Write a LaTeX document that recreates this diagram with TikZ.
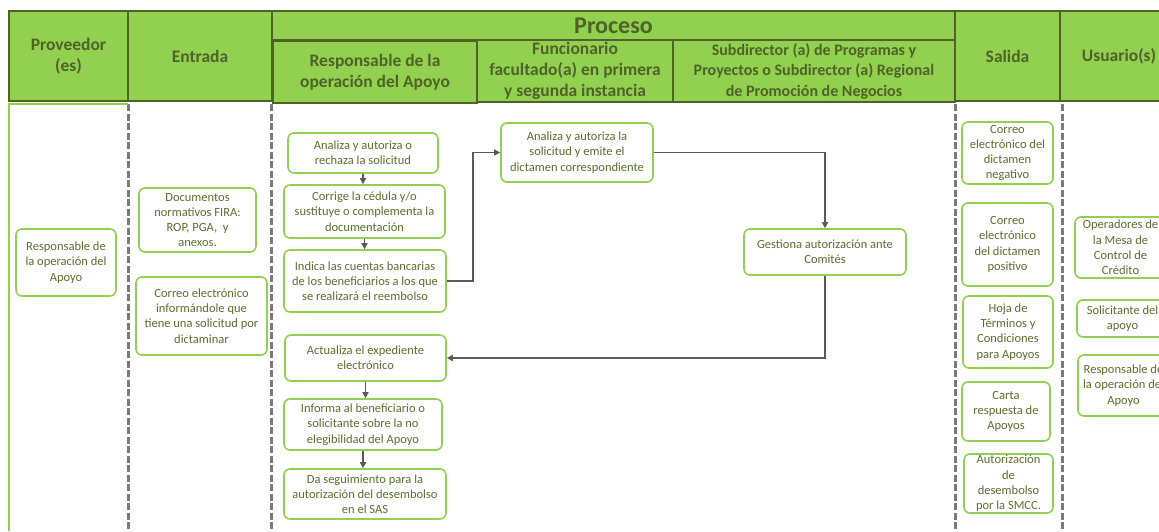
\documentclass[tikz,border=0pt]{standalone}
\usepackage{fontspec}
\setmainfont{Carlito}
\usetikzlibrary{arrows.meta}
\definecolor{hfill}{HTML}{92D050}
\definecolor{hline}{HTML}{4F6228}
\definecolor{htext}{HTML}{4F6228}
\definecolor{btext}{HTML}{5A7030}
\definecolor{arrc}{HTML}{595959}
\definecolor{dashc}{HTML}{7A7A7A}
\tikzset{
  hdr/.style={draw=hline, fill=hfill, line width=1.5pt, text=htext, font=\bfseries\fontsize{17.5}{21}\selectfont, align=center, inner sep=0pt},
  subhdr/.style={hdr, font=\bfseries\fontsize{16}{20.5}\selectfont},
  titlehdr/.style={hdr, font=\bfseries\fontsize{24}{28}\selectfont},
  box/.style={draw=hfill, fill=white, line width=1.6pt, rounded corners=6pt, text=btext, font=\fontsize{12.5}{15.3}\selectfont, align=center, inner sep=0pt},
  arr/.style={draw=arrc, line width=1.5pt, -{Triangle[length=6pt,width=6pt]}},
  lane/.style={draw=dashc, line width=3pt, dash pattern=on 7pt off 2.5pt},
  greenedge/.style={draw=hfill, line width=1.5pt},
}
\newcommand{\placenode}[7]{\node[#1, minimum width={(#5)-(#3)}, minimum height={(#6)-(#4)}] (#2) at ({((#3)+(#5))/2},{((#4)+(#6))/2}) {#7};}
\begin{document}
\begin{tikzpicture}[x=1pt,y=-1pt]
\useasboundingbox (0,0) rectangle (1159,531);
\clip (0,0) rectangle (1159,531);
\fill[white] (0,0) rectangle (1159,531);

% swimlane separators
\coordinate (l1t) at (128,104); \coordinate (l1b) at (128,531);
\coordinate (l2t) at (271.5,104); \coordinate (l2b) at (271.5,531);
\coordinate (l3t) at (955,104); \coordinate (l3b) at (955,531);
\coordinate (l4t) at (1062,104); \coordinate (l4b) at (1062,531);
\draw[lane] (l1t) -- (l1b);
\draw[lane] (l2t) -- (l2b);
\draw[lane] (l3t) -- (l3b);
\draw[lane] (l4t) -- (l4b);
\coordinate (gA) at (9,531); \coordinate (gB) at (9,104); \coordinate (gC) at (128,104);
\draw[greenedge] (gA) -- (gB) -- (gC);

% header
\placenode{hdr}{hprov}{9}{11}{128}{101}{Proveedor\\(es)}
\placenode{hdr}{hent}{128}{11}{272}{101}{Entrada}
\placenode{titlehdr}{hproc}{272}{11}{955}{40}{Proceso}
\placenode{hdr}{hresp}{273}{41}{477}{103}{Responsable de la\\operación del Apoyo}
\placenode{hdr}{hfunc}{477}{40}{673}{102}{Funcionario\\facultado(a) en primera\\y segunda instancia}
\placenode{subhdr}{hsub}{673}{40}{955}{102}{Subdirector (a) de Programas y\\Proyectos o Subdirector (a) Regional\\de Promoción de Negocios}
\placenode{hdr}{hsal}{955}{11}{1060}{101}{Salida}
\placenode{hdr}{husu}{1060}{11}{1178}{101}{Usuario(s)}

% proveedor
\placenode{box}{P1}{16}{229}{116}{296}{Responsable de\\la operación del\\Apoyo}
% entrada
\placenode{box}{E1}{139}{188}{256}{252}{Documentos\\normativos FIRA:\\ROP, PGA,~ y\\anexos.}
\placenode{box}{E2}{136}{277}{267}{355}{Correo electrónico\\informándole que\\tiene una solicitud por\\dictaminar}
% responsable
\placenode{box}{R1}{288}{133}{438}{173}{Analiza y autoriza o\\rechaza la solicitud}
\placenode{box}{R2}{284}{185}{445}{238}{Corrige la cédula y/o\\sustituye o complementa la\\documentación}
\placenode{box}{R3}{284}{250}{446}{312}{Indica las cuentas bancarias\\de los beneficiarios a los que\\se realizará el reembolso}
\placenode{box}{R4}{285}{335}{446}{381}{Actualiza el expediente\\electrónico}
\placenode{box}{R5}{284}{399}{442}{450}{Informa al beneficiario o\\solicitante sobre la no\\elegibilidad del Apoyo}
\placenode{box}{R6}{284}{469}{446}{519}{Da seguimiento para la\\autorización del desembolso\\en el SAS}
% funcionario
\placenode{box}{F1}{501}{123}{653}{182}{Analiza y autoriza la\\solicitud y emite el\\dictamen correspondiente}
% subdirector
\placenode{box}{S1}{744}{229}{906}{275}{Gestiona autorización ante\\Comités}
% salida
\placenode{box}{O1}{962}{122}{1053}{184}{Correo\\electrónico del\\dictamen\\negativo}
\placenode{box}{O2}{962}{203}{1053}{286}{Correo\\electrónico\\del dictamen\\positivo}
\placenode{box}{O3}{963}{296}{1053}{368}{Hoja de\\Términos y\\Condiciones\\para Apoyos}
\placenode{box}{O4}{962}{382}{1050}{441}{Carta\\respuesta de\\Apoyos}
\placenode{box}{O5}{964}{454}{1053}{513}{Autorización\\de\\desembolso\\por la SMCC.}
% usuarios
\placenode{box}{U1}{1075}{217}{1166}{278}{Operadores de\\la Mesa de\\Control de\\Crédito}
\placenode{box}{U2}{1077}{300}{1168}{337}{Solicitante del\\apoyo}
\placenode{box}{U3}{1078}{355}{1169}{416}{Responsable de\\la operación del\\Apoyo}

% connectors
\draw[arr] (R1.south) -- (R1.south |- R2.north);
\draw[arr] (R2.south) -- (R2.south |- R3.north);
\draw[arr] (R3.east) -- ++(26,0) |- (F1.west);
\draw[arr] (F1.east) -| (S1.north);
\draw[arr] (S1.south) |- (R4.east);
\draw[arr] (R4.south) -- (R4.south |- R5.north);
\draw[arr] (R5.south) -- (R5.south |- R6.north);
\end{tikzpicture}
\end{document}
